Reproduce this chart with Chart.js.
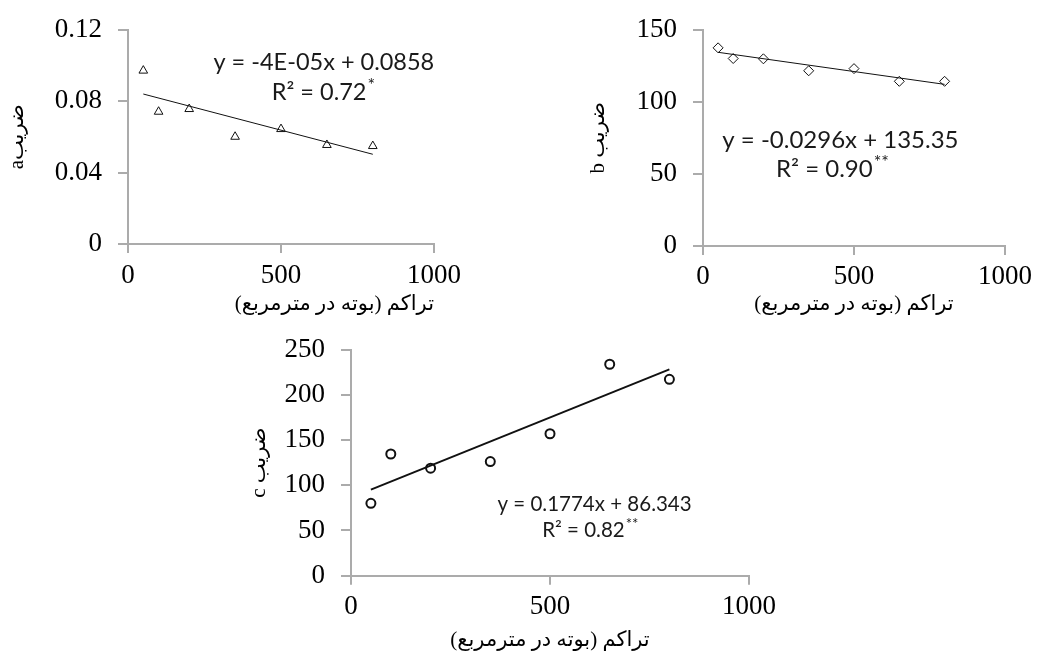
<!DOCTYPE html>
<html>
<head>
<meta charset="utf-8">
<script src="https://cdn.jsdelivr.net/npm/chart.js@4.4.1/dist/chart.umd.min.js"></script>
<style>
  body { margin: 0; background: #fff; width: 1040px; height: 656px; position: relative; overflow: hidden; }
  canvas { position: absolute; }
</style>
</head>
<body>
<canvas id="chartA" width="480" height="325" style="left:0;top:0"></canvas>
<canvas id="chartB" width="500" height="325" style="left:540px;top:0"></canvas>
<canvas id="chartC" width="570" height="336" style="left:240px;top:320px"></canvas>
<script>
// plant density (plants per m2)
const densities = [50, 100, 200, 350, 500, 650, 800];

// coefficient a, b, c
const coefA = [0.097, 0.074, 0.0755, 0.060, 0.0643, 0.0554, 0.0548];
const coefB = [137.3, 129.9, 129.7, 121.4, 122.9, 114.1, 114.1];
const coefC = [80, 134.5, 118.8, 126.1, 156.9, 233.7, 217];

// fitted lines, start and end
const trendX = [50, 800];
const trendA = [0.0839, 0.0502];
const trendB = [134.2, 112.0];
const trendC = [95.2, 228.0];

// ticks
const xTicks = [0, 500, 1000];
const xLabels = ['0', '500', '1000'];
const yTicksA = [0, 0.04, 0.08, 0.12];
const yLabelsA = ['0', '0.04', '0.08', '0.12'];
const yTicksB = [0, 50, 100, 150];
const yTicksC = [0, 50, 100, 150, 200, 250];

const xTitle = '\u200Fتراکم (بوته در مترمربع)\u200F';
const yTitleA = 'a' + 'ضریب';
const yTitleB = 'b ' + 'ضریب';
const yTitleC = 'c ' + 'ضریب';

const eqA = ['y = -4E-05x + 0.0858', 'R² = 0.72', '*'];
const eqB = ['y = -0.0296x + 135.35', 'R² = 0.90', '**'];
const eqC = ['y = 0.1774x + 86.343', 'R² = 0.82', '**'];

const axisColor = '#ababab';
const tickFont = { family: "'Liberation Serif', 'Times New Roman', serif", size: 27, lineHeight: 1 };
const titleFont = { family: "'Liberation Serif', 'DejaVu Sans', serif", size: 21 };

const notesPlugin = {
  id: 'notes',
  afterDatasetsDraw(chart, args, o) {
    const { ctx, scales: { x, y } } = chart;
    ctx.save();
    ctx.fillStyle = '#1a1a1a';
    ctx.textBaseline = 'middle';
    ctx.textAlign = 'left';
    const main = o.size + 'px Lato, sans-serif';
    const small = Math.round(o.size * 0.75) + 'px Lato, sans-serif';

    ctx.font = main;
    let w = ctx.measureText(o.text[0]).width;
    ctx.fillText(o.text[0], x.getPixelForValue(o.at[0]) - w / 2, y.getPixelForValue(o.at[1]));

    w = ctx.measureText(o.text[1]).width;
    ctx.font = small;
    const sw = ctx.measureText(o.text[2]).width;
    const left = x.getPixelForValue(o.at[2]) - (w + sw) / 2;
    const cy = y.getPixelForValue(o.at[3]);
    ctx.font = main;
    ctx.fillText(o.text[1], left, cy);
    ctx.font = small;
    ctx.fillText(o.text[2], left + w + 1, cy - o.size * 0.3);
    ctx.restore();
  }
};

const makeChart = (id, cfg) => {
  const pts = densities.map((d, i) => ({ x: d, y: cfg.values[i] }));
  const line = trendX.map((d, i) => ({ x: d, y: cfg.trend[i] }));
  return new Chart(document.getElementById(id), {
    type: 'scatter',
    data: {
      datasets: [
        {
          data: line,
          showLine: true,
          borderColor: '#111',
          borderWidth: cfg.lineWidth,
          pointRadius: 0
        },
        {
          data: pts,
          pointStyle: cfg.marker,
          pointRadius: cfg.radius,
          borderColor: '#111',
          borderWidth: cfg.markerWidth,
          backgroundColor: 'rgba(255,255,255,0)'
        }
      ]
    },
    options: {
      responsive: false,
      animation: false,
      layout: { padding: { top: cfg.pad[0], right: cfg.pad[1], bottom: 0, left: 0 } },
      plugins: {
        legend: { display: false },
        tooltip: { enabled: false },
        notes: { text: cfg.eq, at: cfg.eqAt, size: cfg.eqSize }
      },
      scales: {
        x: {
          type: 'linear',
          min: 0,
          max: 1000,
          afterBuildTicks: s => { s.ticks = xTicks.map(v => ({ value: v })); },
          afterFit: s => { s.height = cfg.xHeight; },
          ticks: { font: tickFont, color: '#000', padding: cfg.xPad, maxRotation: 0, callback: (v, i) => xLabels[i] },
          grid: { drawOnChartArea: false, drawTicks: true, tickLength: 9, color: axisColor, lineWidth: 2 },
          border: { color: axisColor, width: 2 },
          title: { display: true, text: xTitle, font: titleFont, color: '#000', align: cfg.xAlign, padding: { top: 0, bottom: cfg.xTitlePad } }
        },
        y: {
          type: 'linear',
          min: cfg.yTicks[0],
          max: cfg.yTicks[cfg.yTicks.length - 1],
          afterBuildTicks: s => { s.ticks = cfg.yTicks.map(v => ({ value: v })); },
          afterFit: s => { s.width = cfg.yWidth; },
          ticks: {
            font: tickFont,
            color: '#000',
            padding: 16,
            callback: (v, i) => cfg.yLabels[i]
          },
          grid: { drawOnChartArea: false, drawTicks: true, tickLength: 10, color: axisColor, lineWidth: 2 },
          border: { color: axisColor, width: 2 },
          title: { display: true, text: cfg.yTitle, font: titleFont, color: '#000', padding: { top: cfg.yTitlePad, bottom: 0 } }
        }
      }
    },
    plugins: [notesPlugin]
  });
};

makeChart('chartA', {
  values: coefA, trend: trendA, lineWidth: 1,
  marker: 'triangle', radius: 5, markerWidth: 1,
  yTicks: yTicksA, yLabels: yLabelsA, yTitle: yTitleA,
  pad: [29, 46], yWidth: 128, xHeight: 81, xPad: 9, xTitlePad: 8, yTitlePad: 5, xAlign: 'end',
  eq: eqA, eqAt: [640, 0.1016, 637, 0.0848], eqSize: 23.5
});

makeChart('chartB', {
  values: coefB, trend: trendB, lineWidth: 1,
  marker: 'rectRot', radius: 5, markerWidth: 1,
  yTicks: yTicksB, yLabels: yTicksB.map(String), yTitle: yTitleB,
  pad: [24, 28], yWidth: 163, xHeight: 79, xPad: 8, xTitlePad: 8, yTitlePad: 46, xAlign: 'center',
  eq: eqB, eqAt: [455, 73.6, 427, 53.4], eqSize: 24
});

makeChart('chartC', {
  values: coefC, trend: trendC, lineWidth: 2,
  marker: 'circle', radius: 4.5, markerWidth: 2,
  yTicks: yTicksC, yLabels: yTicksC.map(String), yTitle: yTitleC,
  pad: [25.7, 61], yWidth: 111, xHeight: 80.3, xPad: 8.5, xTitlePad: 2.5, yTitlePad: 7, xAlign: 'center',
  eq: eqC, eqAt: [612, 79, 600, 49.7], eqSize: 20.5
});
</script>
</body>
</html>
